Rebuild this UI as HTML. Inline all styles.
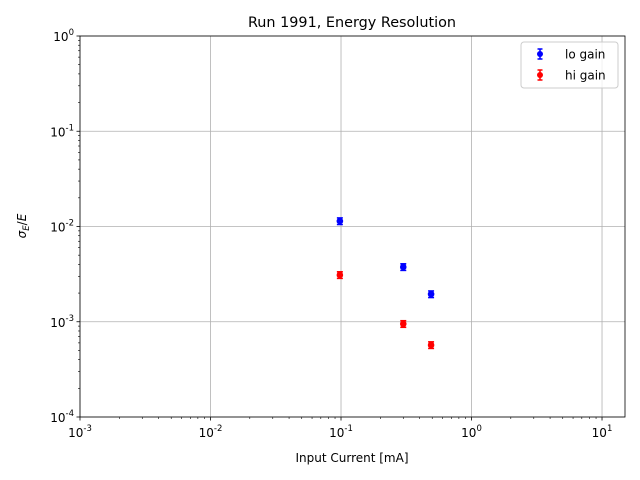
<!DOCTYPE html>
<html><head><meta charset="utf-8"><style>body{margin:0;background:#fff}svg{display:block;font-family:"DejaVu Sans","Liberation Sans",sans-serif}</style></head>
<body>
<svg id="c" width="640" height="480"></svg>
<script>
const xLo = [0.098, 0.3, 0.49];
const yLo = [0.0114, 0.00376, 0.00195];
const xHi = [0.098, 0.3, 0.49];
const yHi = [0.0031, 0.00095, 0.00057];
const errFrac = [0.08, 0.08, 0.08];
const xTickExp = [-3, -2, -1, 0, 1];
const yTickExp = [-4, -3, -2, -1, 0];
const L=80,R=625,T=36,B=417;
const xmin=-3,xmax=Math.log10(15),ymin=-4,ymax=0;
const X=v=>L+(Math.log10(v)-xmin)/(xmax-xmin)*(R-L);
const Y=v=>B-(Math.log10(v)-ymin)/(ymax-ymin)*(B-T);
const svg=document.getElementById('c');
const NS='http://www.w3.org/2000/svg';
function mk(t,a,p){const e=document.createElementNS(NS,t);for(const k in a)e.setAttribute(k,a[k]);(p||svg).appendChild(e);return e;}
let e;
xTickExp.forEach(k=>{const x=X(Math.pow(10,k));
e=mk('line',{x1:x,x2:x,y1:T,y2:B,stroke:'#b0b0b0','stroke-width':0.8});

e=mk('line',{x1:x,x2:x,y1:B,y2:B+3.5,stroke:'#000','stroke-width':0.8});

e=mk('text',{x:x,y:B+20,'font-size':12,'text-anchor':'middle'});

e.innerHTML='10<tspan dy="-6" font-size="8.5">'+k+'</tspan>';
});
for(let k=-3;k<=1;k++)for(let m=2;m<=9;m++){const v=m*Math.pow(10,k);if(Math.log10(v)>xmax)continue;const x=X(v);
e=mk('line',{x1:x,x2:x,y1:B,y2:B+2,stroke:'#000','stroke-width':0.6});
}
yTickExp.forEach(k=>{const y=Y(Math.pow(10,k));
e=mk('line',{x1:L,x2:R,y1:y,y2:y,stroke:'#b0b0b0','stroke-width':0.8});

e=mk('line',{x1:L-3.5,x2:L,y1:y,y2:y,stroke:'#000','stroke-width':0.8});

e=mk('text',{x:L-6,y:y+5,'font-size':12,'text-anchor':'end'});

e.innerHTML='10<tspan dy="-6" font-size="8.5">'+k+'</tspan>';
});
for(let k=-4;k<0;k++)for(let m=2;m<=9;m++){const y=Y(m*Math.pow(10,k));
e=mk('line',{x1:L-2,x2:L,y1:y,y2:y,stroke:'#000','stroke-width':0.6});
}
e=mk('rect',{x:L,y:T,width:R-L,height:B-T,fill:'none',stroke:'#000','stroke-width':0.8});

function series(xs,ys,col,name){xs.forEach((xv,i)=>{const x=X(xv),y=ys[i];
const y1=Y(y*(1+errFrac[i])),y2=Y(y*(1-errFrac[i]));
e=mk('line',{x1:x,x2:x,y1:y1,y2:y2,stroke:col,'stroke-width':1.5});

mk('line',{x1:x-3,x2:x+3,y1:y1,y2:y1,stroke:col,'stroke-width':1.5});
mk('line',{x1:x-3,x2:x+3,y1:y2,y2:y2,stroke:col,'stroke-width':1.5});
e=mk('circle',{cx:x,cy:Y(y),r:3.3,fill:col});

});}
series(xLo,yLo,'#0000ff','lo-gain');
series(xHi,yHi,'#ff0000','hi-gain');
e=mk('text',{x:352,y:27,'font-size':14.4,'text-anchor':'middle'});

e.textContent='Run 1991, Energy Resolution';
e=mk('text',{x:352,y:462,'font-size':12,'text-anchor':'middle'});

e.textContent='Input Current [mA]';
e=mk('text',{x:0,y:0,'font-size':12,'text-anchor':'middle',transform:'translate(26,226) rotate(-90)'});

e.innerHTML='<tspan font-style="italic">σ</tspan><tspan font-size="8.5" dy="3" font-style="italic">E</tspan><tspan dy="-3">/</tspan><tspan font-style="italic">E</tspan>';
const lg=mk('g',{});
mk('rect',{x:521,y:42,width:97,height:46,rx:3,fill:'#fff','fill-opacity':0.8,stroke:'#ccc'},lg);
[['lo gain','#0000ff',54],['hi gain','#ff0000',75]].forEach(([t,c,y])=>{
e=mk('line',{x1:540,x2:540,y1:y-5,y2:y+5,stroke:c,'stroke-width':1.5},lg);

mk('line',{x1:537.5,x2:542.5,y1:y-5,y2:y-5,stroke:c,'stroke-width':1.5},lg);
mk('line',{x1:537.5,x2:542.5,y1:y+5,y2:y+5,stroke:c,'stroke-width':1.5},lg);
mk('circle',{cx:540,cy:y,r:3,fill:c},lg);
e=mk('text',{x:565,y:y+4.5,'font-size':12},lg);

e.textContent=t;});
</script>
</body></html>
